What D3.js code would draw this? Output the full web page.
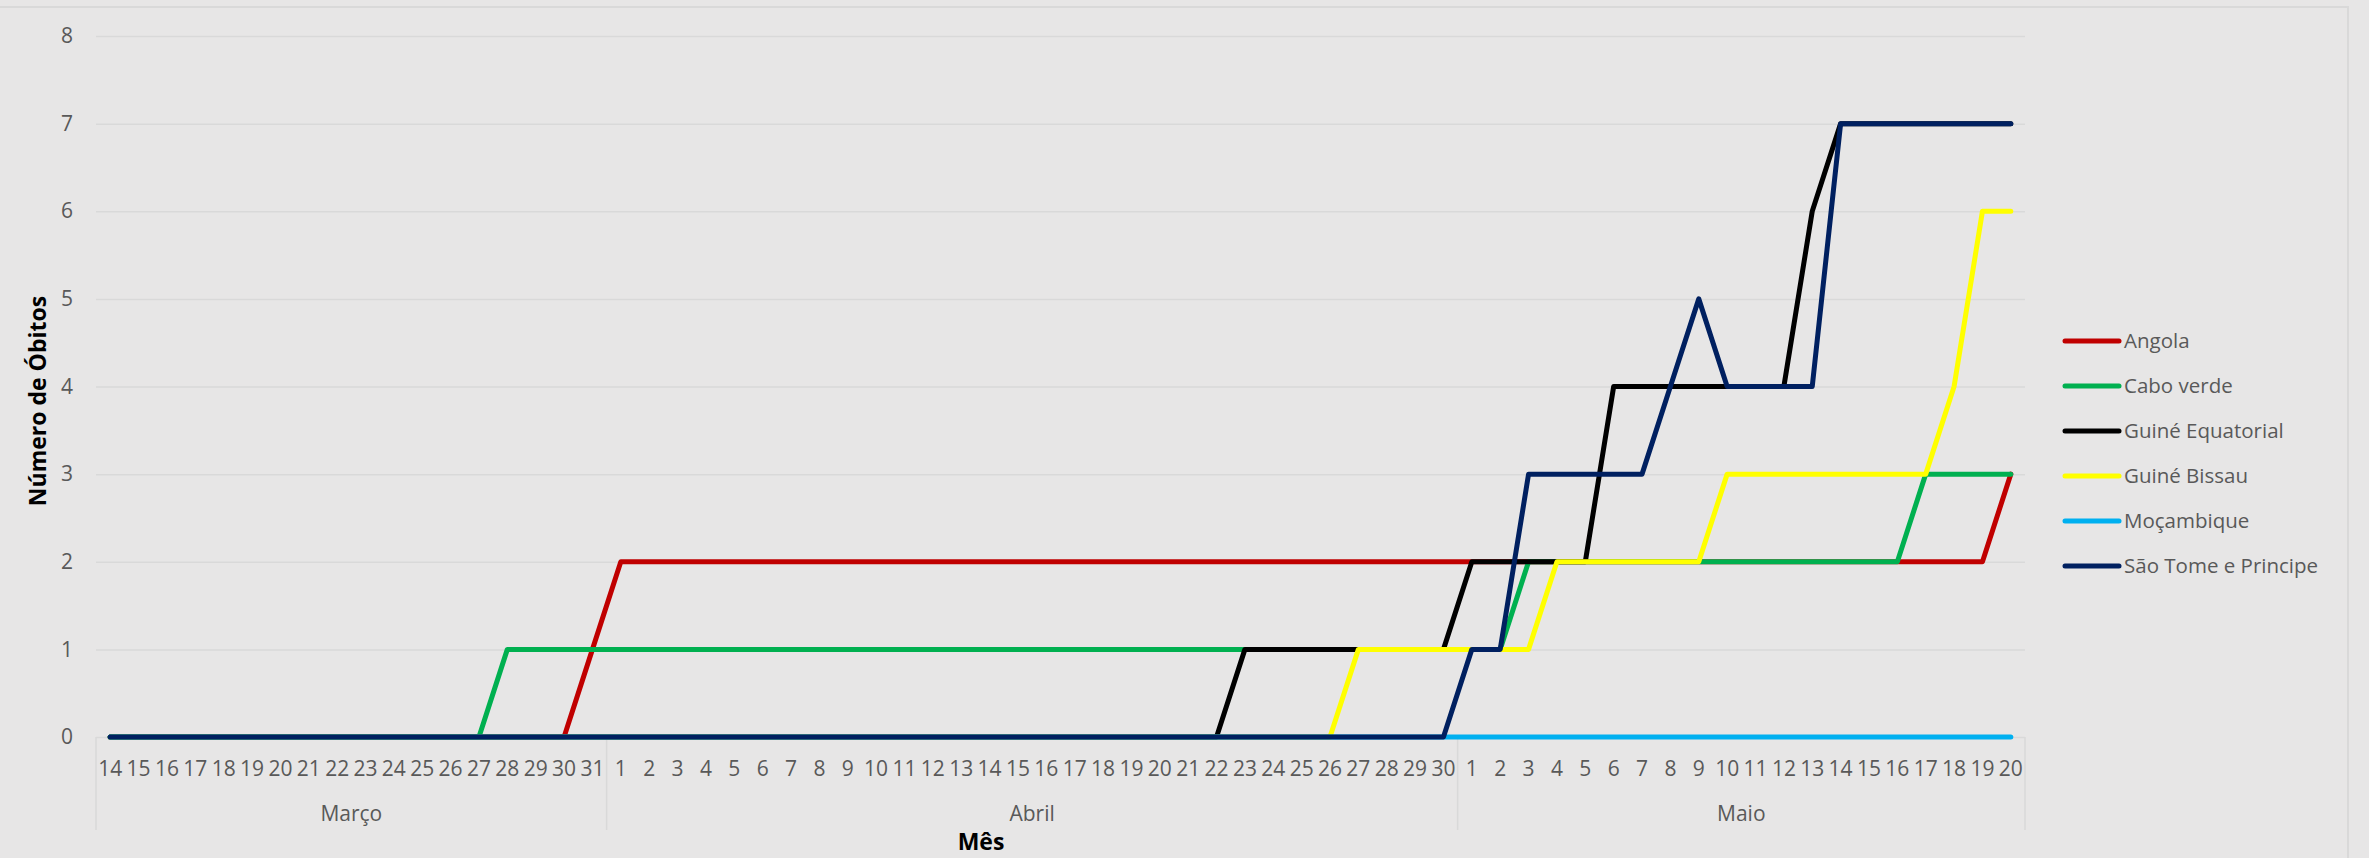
<!DOCTYPE html>
<html>
<head>
<meta charset="utf-8">
<script src="https://cdn.jsdelivr.net/npm/d3@7"></script>
<style>
  html, body { margin: 0; padding: 0; background: #e7e6e6; }
  svg { display: block; }
  text { font-family: "Open Sans", "Noto Sans", "DejaVu Sans", sans-serif; }
</style>
</head>
<body>
<svg id="chart" width="2369" height="858"></svg>
<script>
// ---------------- data ----------------
const months = ["Março", "Abril", "Maio"];
const monthFirstDay = [14, 1, 1];
const monthLastDay = [31, 30, 20];

const seriesNames = ["Angola", "Cabo verde", "Guiné Equatorial", "Guiné Bissau", "Moçambique", "São Tome e Principe"];
const seriesColors = ["#c00000", "#00b050", "#000000", "#ffff00", "#00b0f0", "#002060"];

// values per day: Março 14–31 | Abril 1–30 | Maio 1–20
const angola = [
  0,0,0,0,0,0,0,0,0,0,0,0,0,0,0,0,0,1,
  2,2,2,2,2,2,2,2,2,2,2,2,2,2,2,2,2,2,2,2,2,2,2,2,2,2,2,2,2,2,
  2,2,2,2,2,2,2,2,2,2,2,2,2,2,2,2,2,2,2,3
];
const caboVerde = [
  0,0,0,0,0,0,0,0,0,0,0,0,0,0,1,1,1,1,
  1,1,1,1,1,1,1,1,1,1,1,1,1,1,1,1,1,1,1,1,1,1,1,1,1,1,1,1,1,1,
  1,1,2,2,2,2,2,2,2,2,2,2,2,2,2,2,3,3,3,3
];
const guineEquatorial = [
  0,0,0,0,0,0,0,0,0,0,0,0,0,0,0,0,0,0,
  0,0,0,0,0,0,0,0,0,0,0,0,0,0,0,0,0,0,0,0,0,0,1,1,1,1,1,1,1,1,
  2,2,2,2,2,4,4,4,4,4,4,4,6,7,7,7,7,7,7,7
];
const guineBissau = [
  0,0,0,0,0,0,0,0,0,0,0,0,0,0,0,0,0,0,
  0,0,0,0,0,0,0,0,0,0,0,0,0,0,0,0,0,0,0,0,0,0,0,0,0,0,1,1,1,1,
  1,1,1,2,2,2,2,2,2,3,3,3,3,3,3,3,3,4,6,6
];
const mocambique = [
  0,0,0,0,0,0,0,0,0,0,0,0,0,0,0,0,0,0,
  0,0,0,0,0,0,0,0,0,0,0,0,0,0,0,0,0,0,0,0,0,0,0,0,0,0,0,0,0,0,
  0,0,0,0,0,0,0,0,0,0,0,0,0,0,0,0,0,0,0,0
];
const saoTome = [
  0,0,0,0,0,0,0,0,0,0,0,0,0,0,0,0,0,0,
  0,0,0,0,0,0,0,0,0,0,0,0,0,0,0,0,0,0,0,0,0,0,0,0,0,0,0,0,0,0,
  1,1,3,3,3,3,3,4,5,4,4,4,4,7,7,7,7,7,7,7
];
const seriesValues = [angola, caboVerde, guineEquatorial, guineBissau, mocambique, saoTome];

const yTicks = [0, 1, 2, 3, 4, 5, 6, 7, 8];
const yTitle = "Número de Óbitos";
const xTitle = "Mês";

(function draw() {
  // ---------------- build categories ----------------
  const dayLabels = [];
  const dayMonth = [];
  months.forEach((m, mi) => {
    for (let d = monthFirstDay[mi]; d <= monthLastDay[mi]; d++) {
      dayLabels.push(String(d));
      dayMonth.push(mi);
    }
  });
  const idx = d3.range(dayLabels.length);

  // ---------------- layout ----------------
  const pl = 96, pr = 2025, pt = 36, pb = 737;
  const svg = d3.select("#chart");

  // chart area border
  svg.append("rect")
    .attr("x", -3).attr("y", 7).attr("width", 2348 + 3).attr("height", 900)
    .attr("fill", "#e7e6e6").attr("stroke", "#d9d9d9").attr("stroke-width", 2);

  const x = d3.scaleBand().domain(idx).range([pl, pr]).padding(0);
  const xc = i => x(i) + x.bandwidth() / 2;
  const y = d3.scaleLinear().domain([0, 8]).range([pb, pt]);

  // y axis with gridlines
  const yAxis = svg.append("g")
    .attr("transform", `translate(${pl},0)`)
    .call(d3.axisLeft(y).tickValues(yTicks).tickSize(-(pr - pl)).tickPadding(23).tickFormat(d3.format("d")));
  yAxis.select(".domain").remove();
  yAxis.selectAll(".tick line").attr("stroke", "#d9d9d9").attr("stroke-width", 1.5);
  yAxis.selectAll(".tick text")
    .attr("fill", "#595959").attr("font-size", 21)
    .style("font-family", '"Open Sans", sans-serif');

  // x axis: day labels
  const xAxis = svg.append("g")
    .attr("transform", `translate(0,${pb})`)
    .call(d3.axisBottom(x).tickSize(0).tickPadding(0).tickFormat(i => dayLabels[i]));
  xAxis.select(".domain").remove();
  xAxis.selectAll(".tick text")
    .attr("y", 32).attr("dy", "0.35em")
    .attr("fill", "#595959").attr("font-size", 21)
    .style("font-family", '"Open Sans", sans-serif');

  // category separator lines (month groups)
  const boundaries = [pl];
  months.forEach((m, mi) => {
    const last = d3.max(idx.filter(i => dayMonth[i] === mi));
    boundaries.push(x(last) + x.bandwidth());
  });
  svg.append("g").selectAll("line").data(boundaries).join("line")
    .attr("x1", d => d).attr("x2", d => d)
    .attr("y1", pb).attr("y2", 830)
    .attr("stroke", "#d9d9d9").attr("stroke-width", 1.5);

  // month labels
  svg.append("g").selectAll("text").data(months).join("text")
    .attr("x", (m, mi) => {
      const ids = idx.filter(i => dayMonth[i] === mi);
      return (xc(d3.min(ids)) + xc(d3.max(ids))) / 2;
    })
    .attr("y", 814).attr("dy", "0.35em")
    .attr("text-anchor", "middle")
    .attr("fill", "#595959").attr("font-size", 21)
    .text(d => d);

  // lines
  const line = d3.line().x((d, i) => xc(i)).y(d => y(d));
  svg.append("g").selectAll("path").data(seriesValues).join("path")
    .attr("d", d => line(d))
    .attr("fill", "none")
    .attr("stroke", (d, i) => seriesColors[i])
    .attr("stroke-width", 5)
    .attr("stroke-linejoin", "round")
    .attr("stroke-linecap", "round");

  // axis titles
  svg.append("text")
    .attr("transform", "translate(38,401) rotate(-90)")
    .attr("text-anchor", "middle").attr("dy", "0.35em")
    .attr("font-size", 23).attr("font-weight", "bold").attr("fill", "#000")
    .text(yTitle);
  svg.append("text")
    .attr("x", 981).attr("y", 850)
    .attr("text-anchor", "middle")
    .attr("font-size", 23).attr("font-weight", "bold").attr("fill", "#000")
    .text(xTitle);

  // legend
  const lg = svg.append("g").selectAll("g").data(seriesNames).join("g")
    .attr("transform", (d, i) => `translate(2065,${341 + i * 45})`);
  lg.append("line")
    .attr("x1", 0).attr("x2", 54).attr("y1", 0).attr("y2", 0)
    .attr("stroke", (d, i) => seriesColors[i])
    .attr("stroke-width", 5).attr("stroke-linecap", "round");
  lg.append("text")
    .attr("x", 59).attr("y", 0).attr("dy", "0.35em")
    .attr("font-size", 20.5).attr("fill", "#595959")
    .text(d => d);
})();
</script>
</body>
</html>
